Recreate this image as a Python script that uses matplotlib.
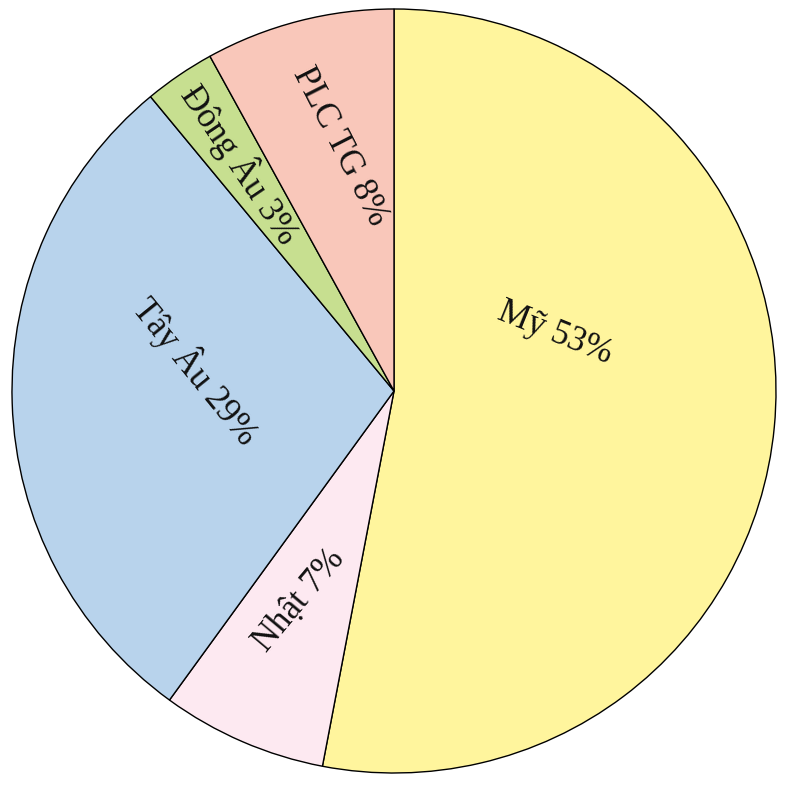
import matplotlib
matplotlib.use("Agg")
import matplotlib.pyplot as plt

labels = ["Mỹ", "Nhật", "Tây Âu", "Đông Âu", "PLC TG"]
values = [53, 7, 29, 3, 8]
colors = ["#FFF59D", "#FDE9F1", "#B8D3EC", "#C7DF90", "#F9C7BA"]

W, H = 793, 794
fig = plt.figure(figsize=(W / 100, H / 100), dpi=100)
ax = fig.add_axes([0, 0, 1, 1])

cx, cy, r = 394, 391, 382
wedges, _ = ax.pie(values, colors=colors, startangle=-90, counterclock=True,
                   center=(cx, cy), radius=r, frame=True,
                   wedgeprops=dict(edgecolor="black", linewidth=1.0))
ax.set_xlim(0, W)
ax.set_ylim(H, 0)
ax.set_aspect("equal")
ax.axis("off")

# label placement (pixel coords) and rotation
placements = [
    (555, 333, -22),
    (299, 601, 50),
    (196, 371, -51),
    (240, 164, -56),
    (340, 146, -63),
]
for lab, val, (x, y, rot) in zip(labels, values, placements):
    ax.text(x, y, f"{lab} {val}%", rotation=rot, rotation_mode="anchor",
            ha="center", va="center", fontsize=25, family="Liberation Serif",
            color="#111111")

fig.savefig("out.png", dpi=100)
